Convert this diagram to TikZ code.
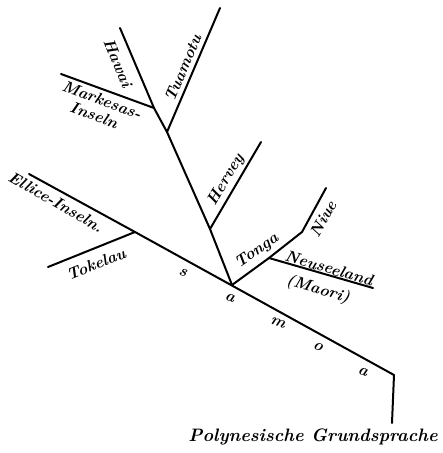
\documentclass[tikz,border=0pt]{standalone}
\usepackage{fontspec}
\tikzset{
  branch/.style={line width=2pt, line cap=round, line join=round},
  lab/.style={inner sep=0pt, font=\fontsize{16}{17}\selectfont\bfseries\itshape\addfontfeatures{LetterSpace=8}},
  big/.style={inner sep=0pt, font=\fontsize{18}{19}\selectfont\bfseries\itshape\addfontfeatures{LetterSpace=6}},
}
\begin{document}
\begin{tikzpicture}[x=1pt,y=-1pt]
\useasboundingbox (0,0) rectangle (443,453);
% coordinates
\coordinate (root) at (392,423);
\coordinate (bend) at (394,375);
\coordinate (sj) at (232,285);
\coordinate (tj) at (135,232);
\coordinate (ell) at (29,174);
\coordinate (tok) at (48,267);
\coordinate (hj) at (210,229);
\coordinate (her) at (261,142);
\coordinate (tuj) at (167,132);
\coordinate (tua) at (220,8);
\coordinate (mj) at (154,108);
\coordinate (mar) at (61,74);
\coordinate (haw) at (120,28);
\coordinate (nzj) at (269,258);
\coordinate (nz) at (373,288);
\coordinate (nij) at (302,232);
\coordinate (niu) at (326,188);
% lines
\draw[branch] (root) -- (bend) -- (tj) -- (ell);
\draw[branch] (tj) -- (tok);
\draw[branch] (sj) -- (hj) -- (tuj) -- (mj) -- (haw);
\draw[branch] (hj) -- (her);
\draw[branch] (tuj) -- (tua);
\draw[branch] (mj) -- (mar);
\draw[branch] (sj) -- (nzj) -- (nij) -- (niu);
\draw[branch] (nzj) -- (nz);
% labels
\node[lab, rotate=-67.6] (lhaw) at (118,63) {Hawai};
\node[lab, rotate=67] (ltua) at (183,68) {Tuamotu};
\node[lab, rotate=-20.3] (lmar) at (102,100) {Markesas-};
\node[lab, rotate=-20.3] (lins) at (94,115) {Inseln};
\node[lab, rotate=-30] (lell) at (56,202) {Ellice-Inseln.};
\node[lab, rotate=22] (ltok) at (96,264) {Tokelau};
\node[lab, rotate=59.3] (lher) at (226,180) {Hervey};
\node[lab, rotate=35] (lton) at (257,251) {Tonga};
\node[lab, rotate=61] (lniu) at (323,219) {Niue};
\node[lab, rotate=-16] (lnz) at (329,268) {Neuseeland};
\node[lab, rotate=-16] (lmao) at (318,290) {(Maori)};
\node[lab, rotate=-20] (ls) at (183,272) {s};
\node[lab, rotate=-20] (la1) at (230,298) {a};
\node[lab, rotate=-20] (lm) at (278,323) {m};
\node[lab, rotate=-20] (lo) at (318,347) {o};
\node[lab, rotate=-20] (la2) at (363,372) {a};
\node[big] (lgr) at (313,437) {Polynesische Grundsprache};
\end{tikzpicture}
\end{document}
